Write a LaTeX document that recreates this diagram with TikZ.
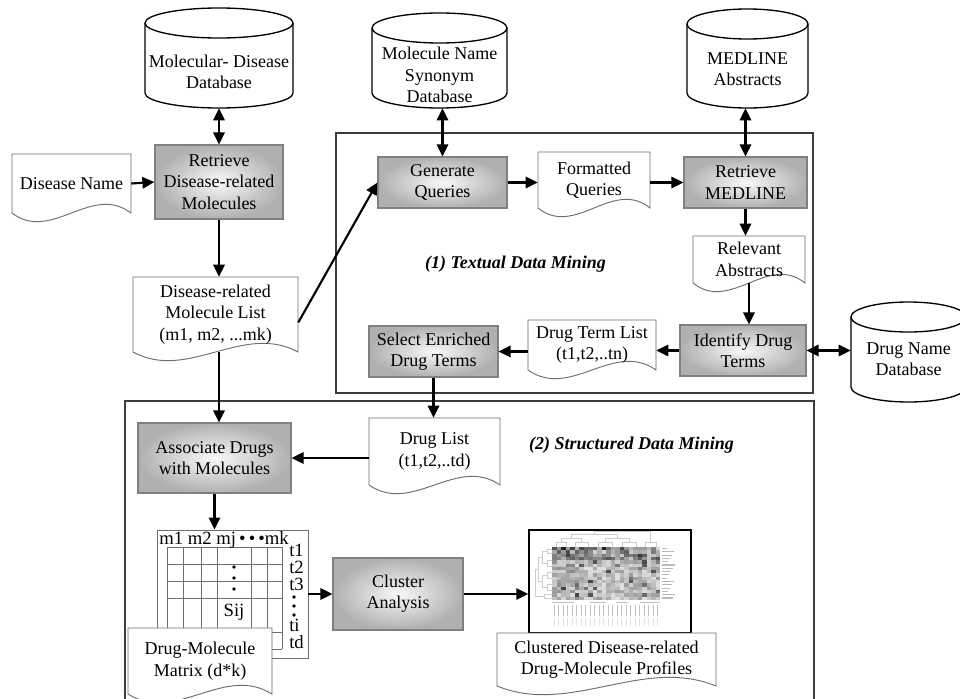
\documentclass[tikz,border=0pt]{standalone}
\usepackage{fontspec}
\setmainfont{Liberation Serif}
\usetikzlibrary{arrows.meta,calc}
\definecolor{edgegray}{HTML}{808080}
\definecolor{docgray}{HTML}{6E6E6E}
\definecolor{framegray}{HTML}{3C3C3C}
\newcommand\mainfs{\fontsize{13.5pt}{16pt}\selectfont}
\newcommand\smallfs{\fontsize{14pt}{15pt}\selectfont}
\tikzset{
 hd/.tip={Triangle[length=9pt,width=8.5pt]},
 arr/.style={line width=1.6pt,-hd},
 darr/.style={line width=1.6pt,hd-hd},
 proc/.style={draw=edgegray,line width=0.9pt,inner color=white!95!gray,outer color=gray!62,align=center,inner sep=0pt,font=\mainfs},
 docline/.style={draw=docgray,line width=0.7pt,fill=white},
 doctext/.style={inner sep=0pt,align=center,font=\mainfs},
 dbline/.style={draw=black,line width=1pt,fill=white},
 txt/.style={inner sep=0pt,align=center,font=\mainfs},
 frame/.style={draw=framegray,line width=1.2pt},
 title/.style={inner sep=0pt,font=\mainfs\bfseries\itshape},
 mtxt/.style={inner sep=0pt,font=\smallfs},
 gridline/.style={draw=docgray,line width=0.6pt},
 dend/.style={draw=gray!40,line width=0.4pt},
}
\newcommand{\procbox}[6]{%
 \node[proc,minimum width={(#4-#2)*0.75pt},minimum height={(#5-#3)*0.75pt}] (#1) at ({(#2+#4)/2},{(#3+#5)/2}) {#6};}
\newcommand{\docnode}[6]{%
 \draw[docline] (#2,#3) -- (#4,#3) -- (#4,#5) .. controls ({#4-(#4-#2)/3},{#5-30}) and ({#2+(#4-#2)/3},{#5+30}) .. (#2,#5) -- cycle;
 \node[doctext,minimum width={(#4-#2)*0.75pt},minimum height={(#5-#3)*0.75pt}] (#1) at ({(#2+#4)/2},{(#3+#5)/2}) {#6};}
\newcommand{\dbnode}[8]{%
 \pgfmathsetmacro\dbrx{(#4-#2)/2*0.75}%
 \pgfmathsetmacro\dbry{#6*0.75}%
 \draw[dbline] (#2,#3+#6) -- (#2,#5-#6) arc[start angle=180,end angle=360,x radius=\dbrx pt,y radius=\dbry pt] -- (#4,#3+#6) arc[start angle=0,end angle=180,x radius=\dbrx pt,y radius=\dbry pt] -- cycle;
 \draw[dbline,fill=none] (#2,#3+#6) arc[start angle=180,end angle=360,x radius=\dbrx pt,y radius=\dbry pt];
 \node[inner sep=0pt,minimum width={(#4-#2)*0.75pt},minimum height={(#5-#3)*0.75pt}] (#1) at ({(#2+#4)/2},{(#3+#5)/2}) {};
 \node[txt] (#1-t) at ({(#2+#4)/2},#7) {#8};}
\begin{document}
\begin{tikzpicture}[x=0.75pt,y=-0.75pt]
\useasboundingbox (0,0) rectangle (960,699);
\clip (0,0) rectangle (960,699);
\fill[white] (0,0) rectangle (960,699);
% frames
\draw[frame] (336,133) rectangle (813,393);
\draw[frame] (125,401) rectangle (814,720);
% databases
\dbnode{mdb}{145}{8}{293}{108}{15}{72}{Molecular- Disease\\Database}
\dbnode{msdb}{372}{13}{507}{108}{15}{75}{Molecule Name\\Synonym\\Database}
\dbnode{medb}{687}{9}{808}{108}{15}{69}{MEDLINE\\Abstracts}
\dbnode{dndb}{851}{302}{966}{402}{15}{359}{Drug Name\\Database}
% process boxes
\procbox{rdm}{155}{145}{283}{219}{Retrieve\\Disease-related\\Molecules}
\procbox{gq}{378}{157}{507}{208}{Generate\\Queries}
\procbox{rm}{684}{157}{807}{208}{Retrieve\\MEDLINE}
\procbox{idt}{680}{325}{806}{376}{Identify Drug\\Terms}
\procbox{sedt}{369}{326}{498}{377}{Select Enriched\\Drug Terms}
\procbox{adm}{138}{423}{291}{493}{Associate Drugs\\with Molecules}
\procbox{ca}{333}{558}{463}{630}{Cluster\\Analysis}
% documents
\docnode{dn}{12}{154}{131}{213}{Disease Name}
\docnode{fq}{538}{152}{650}{208}{Formatted\\Queries}
\docnode{ra}{693}{236}{805}{283}{Relevant\\Abstracts}
\docnode{dtl}{528}{320}{656}{370}{Drug Term List\\(t1,t2,..tn)}
\docnode{dml}{133}{277}{298}{352}{Disease-related\\Molecule List\\(m1, m2, ...mk)}
\docnode{dl}{369}{418}{500}{485}{Drug List\\(t1,t2,..td)}
% heatmap picture
\node[draw=black,line width=1.1pt,fill=white,inner sep=0pt,minimum width={(691-529)*0.75pt},minimum height={(633-530)*0.75pt}] (hm) at (610,581.5) {};
\pgfmathsetseed{11}
\foreach \i in {0,...,23}{\foreach \j in {0,...,15}{%
 \pgfmathsetmacro\hg{int(min(88,12+28*rnd+(\j<4 ? 35*rnd : 0)+(\i<6 ? 12*rnd : 0)+(rnd>0.93 ? 35 : 0)))}%
 \fill[black!\hg] ({552+\i*4.5},{547+\j*3.3}) rectangle ++(4.5,3.3);}}
\draw[dend] (552,549)--(547,549)--(547,553)--(552,553);
\draw[dend] (552,560)--(547,560)--(547,566)--(552,566);
\draw[dend] (552,572)--(547,572)--(547,578)--(552,578);
\draw[dend] (552,584)--(547,584)--(547,590)--(552,590);
\draw[dend] (552,594)--(544,594)--(544,598)--(552,598);
\draw[dend] (547,551)--(542,551)--(542,563)--(547,563);
\draw[dend] (547,575)--(542,575)--(542,587)--(547,587);
\draw[dend] (542,557)--(538,557)--(538,581)--(542,581);
\draw[dend] (538,569)--(535,569)--(535,596)--(544,596);
\draw[dend] (556,547)--(556,542)--(566,542)--(566,547);
\draw[dend] (575,547)--(575,542)--(588,542)--(588,547);
\draw[dend] (598,547)--(598,542)--(612,542)--(612,547);
\draw[dend] (622,547)--(622,542)--(636,542)--(636,547);
\draw[dend] (645,547)--(645,542)--(656,542)--(656,547);
\draw[dend] (561,542)--(561,538)--(581,538)--(581,542);
\draw[dend] (605,542)--(605,538)--(629,538)--(629,542);
\draw[dend] (571,538)--(571,534)--(617,534)--(617,538);
\draw[dend] (594,534)--(594,531)--(650,531)--(650,542);
\foreach \j in {0,...,15}{\pgfmathsetmacro\ll{5+mod(\j*7,9)}\draw[gray!55,line width=0.8pt] (662,{548.5+\j*3.3}) -- ++(\ll,0);}
\draw[gray!50,line width=0.6pt] (552,602) -- (574,602) (590,602) -- (606,602) (616,602) -- (628,602) (640,602) -- (660,602);
\foreach \i in {0,...,23}{\draw[gray!50,line width=0.7pt] ({554+\i*4.5},605) -- ++(0,11);}
\foreach \i in {0,...,23}{\draw[gray!22,line width=0.6pt] ({554+\i*4.5},618) -- ++(0,8);}
\docnode{cdp}{497}{633}{716}{686}{Clustered Disease-related\\Drug-Molecule Profiles}
% matrix
\node[draw=docgray,line width=0.7pt,fill=white,inner sep=0pt,minimum width={(308-157)*0.75pt},minimum height={(658-530)*0.75pt}] (mat) at (232.5,594) {};
\foreach \x in {167,183,201,217,251,267,282}{\draw[gridline] (\x,547) -- (\x,649);}
\foreach \y in {547,564,581,598,632,649}{\draw[gridline] (167,\y) -- (282,\y);}
\node[mtxt,anchor=base west] (mlab) at (159,544) {m1 m2 mj\,•\,•\,•mk};
\node[mtxt,anchor=base west] (tl1) at (289,556) {t1};
\node[mtxt,anchor=base west] (tl2) at (289,573) {t2};
\node[mtxt,anchor=base west] (tl3) at (289,590) {t3};
\node[mtxt,anchor=base west] (tli) at (289,631) {ti};
\node[mtxt,anchor=base west] (tld) at (289,648) {td};
\foreach \y in {597,606,615}{\fill (294,\y) circle[radius=1.4pt];}
\foreach \y in {567,578,589}{\fill (234,\y) circle[radius=1.4pt];}
\node[mtxt] (sij) at (234,612) {Sij};
\docnode{dmm}{128}{628}{272}{694}{Drug-Molecule\\Matrix (d*k)}
% titles
\node[title] (tdm) at (515.5,264) {(1) Textual Data Mining};
\node[title] (sdm) at (631.5,445) {(2) Structured Data Mining};
% connectors
\draw[darr] (mdb.south) -- (rdm.north);
\draw[arr] (dn.east) -- (rdm.west);
\draw[arr] (rdm.south) -- (rdm.south |- dml.north);
\draw[line width=1.6pt,-hd] ($(dml.east)+(0,8)$) -- (gq.west);
\draw[darr] (gq.north |- msdb.south) -- (gq.north);
\draw[arr] (gq.east) -- (gq.east -| fq.west);
\draw[arr] (rm.west -| fq.east) -- (rm.west);
\draw[darr] (rm.north |- medb.south) -- (rm.north);
\draw[arr] (rm.south) -- (rm.south |- ra.north);
\draw[arr] (ra.south) -- (ra.south |- idt.north);
\draw[darr] (idt.east) -- (idt.east -| dndb.west);
\draw[arr] (idt.west) -- (idt.west -| dtl.east);
\draw[arr] (sedt.east -| dtl.west) -- (sedt.east);
\draw[arr] (sedt.south) -- (sedt.south |- dl.north);
\draw[arr] (dml.south -| rdm.south) -- (adm.north -| rdm.south);
\draw[arr] (adm.east -| dl.west) -- (adm.east);
\draw[arr] (adm.south) -- (adm.south |- mat.north);
\draw[arr] (mat.east |- ca.west) -- (ca.west);
\draw[arr] (ca.east) -- (ca.east -| hm.west);
\end{tikzpicture}
\end{document}
